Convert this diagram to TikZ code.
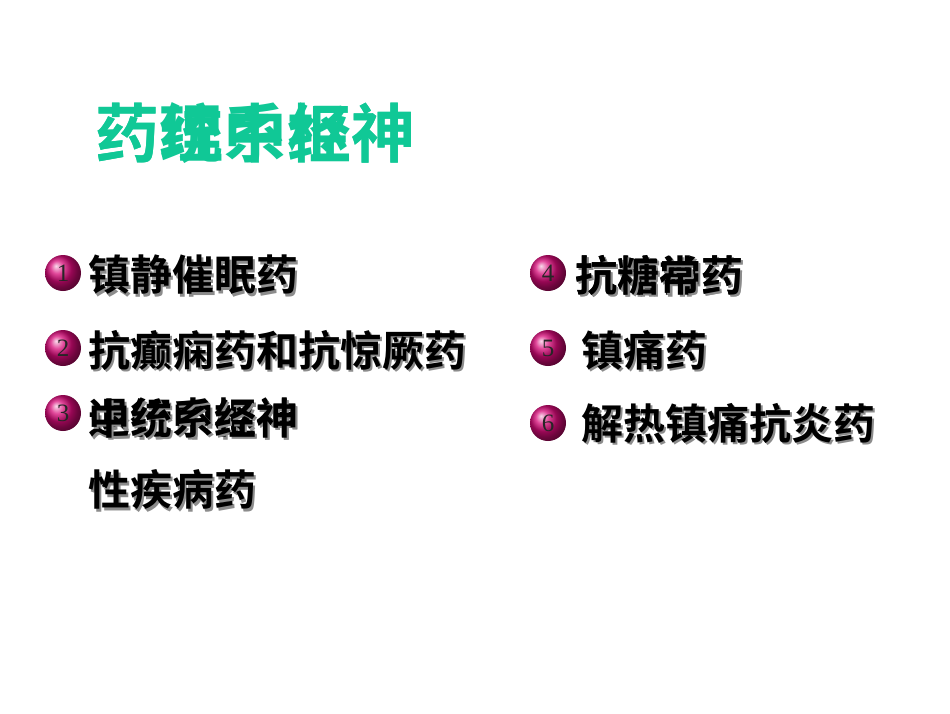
\documentclass[tikz,border=0pt]{standalone}
\usepackage{fontspec}
\newfontfamily\cjk{Noto Sans CJK SC Bold}
\setmainfont{Liberation Serif}
\usetikzlibrary{shadings,calc}
\definecolor{titleg}{RGB}{16,200,150}
\tikzset{
 item/.style={anchor=west,inner sep=0pt,font=\cjk\fontsize{42}{44}\selectfont,text=black},
 shad/.style={anchor=west,inner sep=0pt,font=\cjk\fontsize{42}{44}\selectfont,text=black!45},
 ball/.style={circle,minimum size=36pt,inner sep=0pt,shading=ball,ball color={rgb,255:red,215;green,10;blue,120},font=\fontsize{25}{25}\selectfont,text=black!85}
}
\newcommand{\itm}[3]{\node[shad] at ($(#1)+(2.5,2.5)$) {#2}; \node[item] (#3) at (#1) {#2};}
\begin{document}
\begin{tikzpicture}[x=1pt,y=-1pt]
\useasboundingbox (0,0) rectangle (950,713);
\fill[white] (0,0) rectangle (950,713);
\node[anchor=west,inner sep=0pt,font=\cjk\fontsize{64}{66}\selectfont,text=titleg] (t1) at (95,133) {药统中枢神};
\node[anchor=west,inner sep=0pt,font=\cjk\fontsize{64}{66}\selectfont,text=titleg] (t2) at (95,133) {药理系经神};
\node[ball] (b1) at (63,273) {1};
\node[ball] (b2) at (63,348) {2};
\node[ball] (b3) at (63,413) {3};
\node[ball] (b4) at (548,273) {4};
\node[ball] (b5) at (548,348) {5};
\node[ball] (b6) at (548,423) {6};
\itm{88,275}{镇静催眠药}{i1}
\itm{88,350}{抗癫痫药和抗惊厥药}{i2}
\itm{88,418}{退行中枢神}{i3a}
\itm{88,418}{中统系经神}{i3b}
\itm{88,490}{性疾病药}{i3c}
\itm{575,275}{抗精神药}{i4a}
\itm{575,275}{抗糖常药}{i4b}
\itm{581,350}{镇痛药}{i5}
\itm{581,423}{解热镇痛抗炎药}{i6}
\end{tikzpicture}
\end{document}
